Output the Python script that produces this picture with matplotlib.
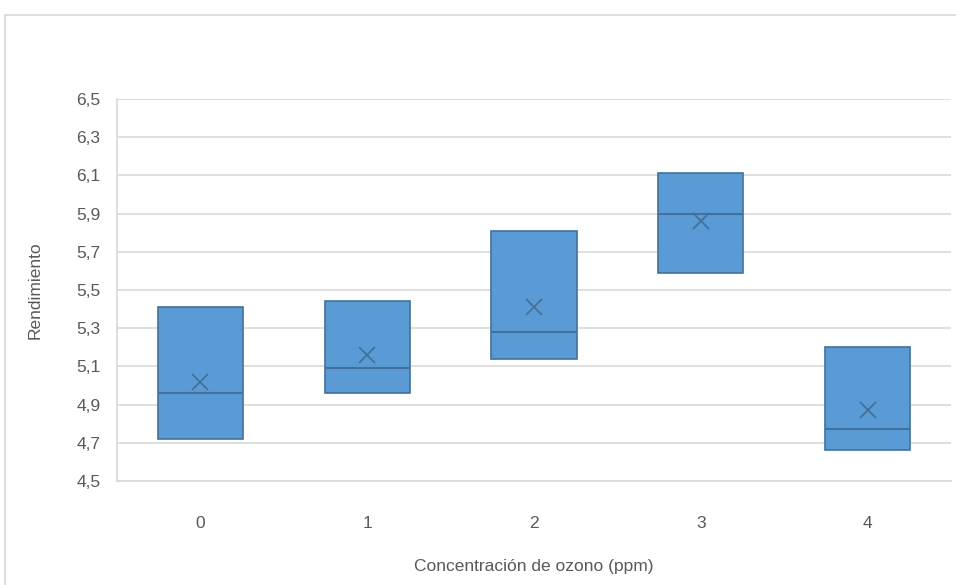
import matplotlib
matplotlib.use("Agg")
import matplotlib.pyplot as plt
from matplotlib.lines import Line2D

# data (box = q1..q3, line = median, x = mean)
categories = ["0", "1", "2", "3", "4"]
q1 = [4.72, 4.96, 5.14, 5.59, 4.66]
median = [4.96, 5.09, 5.28, 5.90, 4.77]
q3 = [5.41, 5.44, 5.81, 6.11, 5.20]
mean = [5.02, 5.16, 5.41, 5.86, 4.87]
yticks = [4.5, 4.7, 4.9, 5.1, 5.3, 5.5, 5.7, 5.9, 6.1, 6.3, 6.5]

plt.rcParams['font.family'] = ['Liberation Sans', 'DejaVu Sans']

box_fill = "#5B9BD5"
box_edge = "#41719C"
grid_col = "#D9D9D9"
text_col = "#595959"

fig = plt.figure(figsize=(9.56, 5.85), dpi=100)
ax = fig.add_axes([117 / 956, 1 - 481 / 585, 834 / 956, 382 / 585])

# outer chart frame (cropped at right and bottom)
fig.add_artist(Line2D([4.5 / 956, 1], [1 - 14.5 / 585] * 2, transform=fig.transFigure,
                      color=grid_col, lw=1.2))
fig.add_artist(Line2D([4.5 / 956] * 2, [0, 1 - 14.5 / 585], transform=fig.transFigure,
                      color=grid_col, lw=1.2))

stats = []
for i in range(len(categories)):
    stats.append({"label": categories[i], "q1": q1[i], "med": median[i], "q3": q3[i],
                  "mean": mean[i], "whislo": q1[i], "whishi": q3[i], "fliers": []})

ax.bxp(stats, positions=range(len(categories)), widths=0.51, patch_artist=True,
       showmeans=True, showcaps=False, showfliers=False,
       boxprops=dict(facecolor=box_fill, edgecolor=box_edge, linewidth=1.2),
       medianprops=dict(color=box_edge, linewidth=1.5),
       whiskerprops=dict(linewidth=0),
       meanprops=dict(marker="x", markeredgecolor=box_edge, markersize=11,
                      markeredgewidth=1.3))

ax.set_xlim(-0.5, 4.5)
ax.set_ylim(4.5, 6.5)
ax.set_yticks(yticks)
ax.set_yticklabels([f"{v:.1f}".replace(".", ",") for v in yticks])
ax.set_xticks(range(len(categories)))
ax.set_xticklabels(categories)

ax.yaxis.grid(True, color=grid_col, linewidth=1.2)
ax.set_axisbelow(True)
for side in ["top", "right"]:
    ax.spines[side].set_visible(False)
for side in ["left", "bottom"]:
    ax.spines[side].set_color(grid_col)
    ax.spines[side].set_linewidth(1.2)

ax.tick_params(axis="both", length=0, labelsize=12.5, labelcolor=text_col)
ax.tick_params(axis="y", pad=12)
ax.tick_params(axis="x", pad=25)

ax.set_ylabel("Rendimiento", fontsize=12.5, color=text_col, labelpad=24)
ax.set_xlabel("Concentración de ozono (ppm)", fontsize=12.5, color=text_col, labelpad=20)

fig.savefig("out.png", dpi=100)
